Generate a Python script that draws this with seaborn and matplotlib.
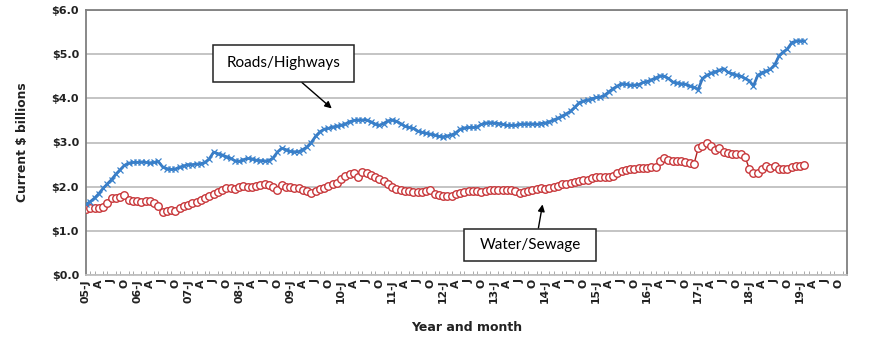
import numpy as np
import pandas as pd
import matplotlib
matplotlib.use("Agg")
import matplotlib.pyplot as plt
import seaborn as sns

# Monthly values, Jan 2005 .. Feb 2019 (current $ billions)
roads = [
    1.60, 1.66, 1.74, 1.84, 1.96, 2.06, 2.16, 2.28, 2.38, 2.48, 2.53, 2.55,
    2.55, 2.56, 2.55, 2.54, 2.55, 2.57, 2.45, 2.41, 2.39, 2.40, 2.44, 2.47,
    2.50, 2.50, 2.51, 2.52, 2.55, 2.63, 2.78, 2.75, 2.72, 2.68, 2.64, 2.59,
    2.57, 2.61, 2.64, 2.63, 2.60, 2.59, 2.58, 2.59, 2.65, 2.78, 2.87, 2.84,
    2.80, 2.79, 2.79, 2.84, 2.90, 3.00, 3.14, 3.24, 3.30, 3.32, 3.35, 3.37,
    3.39, 3.42, 3.47, 3.50, 3.51, 3.51, 3.51, 3.47, 3.42, 3.39, 3.43, 3.49,
    3.51, 3.48, 3.43, 3.37, 3.34, 3.32, 3.26, 3.23, 3.21, 3.19, 3.17, 3.14,
    3.13, 3.15, 3.17, 3.22, 3.30, 3.33, 3.34, 3.34, 3.35, 3.41, 3.44, 3.45,
    3.44, 3.43, 3.41, 3.39, 3.39, 3.39, 3.41, 3.42, 3.42, 3.42, 3.41, 3.43,
    3.44, 3.47, 3.51, 3.55, 3.60, 3.65, 3.71, 3.80, 3.90, 3.94, 3.96, 3.99,
    4.02, 4.03, 4.07, 4.15, 4.22, 4.28, 4.33, 4.32, 4.30, 4.30, 4.31, 4.36,
    4.38, 4.42, 4.46, 4.51, 4.50, 4.45, 4.37, 4.35, 4.33, 4.32, 4.28, 4.25,
    4.20, 4.45, 4.52, 4.57, 4.60, 4.64, 4.67, 4.59, 4.56, 4.53, 4.50, 4.45,
    4.40, 4.28, 4.52, 4.58, 4.62, 4.66, 4.76, 4.96, 5.05, 5.12, 5.26, 5.30,
    5.30, 5.30,
]
water = [
    1.50, 1.51, 1.52, 1.52, 1.53, 1.63, 1.75, 1.75, 1.77, 1.81, 1.70, 1.68,
    1.67, 1.66, 1.67, 1.68, 1.64, 1.57, 1.43, 1.46, 1.48, 1.45, 1.51, 1.56,
    1.59, 1.63, 1.66, 1.70, 1.74, 1.78, 1.84, 1.88, 1.92, 1.96, 1.98, 1.95,
    2.00, 2.01, 2.00, 2.00, 2.01, 2.03, 2.05, 2.04, 2.00, 1.93, 2.04, 2.00,
    1.99, 1.97, 1.96, 1.93, 1.90, 1.86, 1.90, 1.94, 1.98, 2.02, 2.06, 2.09,
    2.17, 2.24, 2.28, 2.30, 2.22, 2.34, 2.31, 2.27, 2.23, 2.18, 2.12, 2.06,
    1.99, 1.95, 1.92, 1.91, 1.90, 1.88, 1.88, 1.89, 1.91, 1.93, 1.84, 1.81,
    1.78, 1.79, 1.80, 1.83, 1.86, 1.88, 1.90, 1.91, 1.90, 1.88, 1.91, 1.92,
    1.92, 1.93, 1.93, 1.93, 1.92, 1.90, 1.86, 1.88, 1.90, 1.92, 1.94, 1.96,
    1.95, 1.97, 2.00, 2.02, 2.05, 2.06, 2.08, 2.10, 2.12, 2.15, 2.16, 2.19,
    2.21, 2.22, 2.23, 2.22, 2.25, 2.30, 2.36, 2.38, 2.40, 2.41, 2.42, 2.43,
    2.43, 2.44, 2.45, 2.57, 2.64, 2.60, 2.59, 2.58, 2.57, 2.56, 2.53, 2.51,
    2.87, 2.93, 2.99, 2.92, 2.84, 2.88, 2.79, 2.77, 2.75, 2.75, 2.75, 2.68,
    2.41, 2.32, 2.32, 2.39, 2.47, 2.43, 2.47, 2.41, 2.39, 2.41, 2.45, 2.47,
    2.47, 2.49,
]
first_year = 2005
last_year = 2019
month_letters = ["J", "A", "J", "O"]
y_ticks = [0, 1, 2, 3, 4, 5, 6]

sns.set_theme(style="white")
plt.rcParams["font.family"] = ["DejaVu Sans"]
BOXFONT = ["Lato", "DejaVu Sans"]

n_months = (last_year - first_year + 1) * 12
tick_pos = list(range(0, n_months, 3))
tick_lab = []
for p in tick_pos:
    yr = first_year + p // 12
    q = (p % 12) // 3
    tick_lab.append(f"{yr % 100:02d}-J" if q == 0 else month_letters[q])

df = pd.DataFrame({
    "idx": np.arange(len(roads)),
    "roads": roads,
    "water": water,
})

fig = plt.figure(figsize=(8.7, 3.4), dpi=100)
ax = fig.add_axes([86 / 870, 1 - 275 / 340, (847 - 86) / 870, (275 - 10) / 340])

sns.lineplot(data=df, x="idx", y="water", ax=ax, color="#b02020", lw=1.0,
             marker="o", markersize=5.4, markerfacecolor="white",
             markeredgecolor="#c8373a", markeredgewidth=1.0, zorder=3)
sns.lineplot(data=df, x="idx", y="roads", ax=ax, color="#3878c0", lw=2.0,
             marker="x", markersize=3.8, markeredgecolor="#3a82cc",
             markeredgewidth=0.9, zorder=4)

ax.set_xlim(0, n_months - 1)
ax.set_ylim(0, 6)
ax.set_yticks(y_ticks)
ax.set_yticklabels([f"${v:.1f}" for v in y_ticks], fontsize=8,
                   fontweight="bold", color="#222222")
ax.set_xticks(tick_pos)
ax.set_xticklabels(tick_lab, rotation=90, fontsize=7.8, fontweight="bold",
                   color="#222222")
ax.set_xticks(range(0, n_months), minor=True)
ax.tick_params(axis="x", which="major", length=0, pad=3)
ax.tick_params(axis="x", which="minor", direction="in", length=3,
               width=0.7, color="#aaaaaa", bottom=True)
ax.tick_params(axis="y", length=0, pad=5)

ax.yaxis.grid(True, color="#b4b4b4", lw=1.1)
ax.xaxis.grid(False)
ax.set_axisbelow(True)
for s in ax.spines.values():
    s.set_color("#7f7f7f")
    s.set_linewidth(1.3)
ax.spines["bottom"].set_color("#c0c0c0")

ax.set_xlabel("Year and month", fontsize=9, fontweight="bold",
              labelpad=13, color="#222222")
ax.set_ylabel("Current $ billions", fontsize=8.8, fontweight="bold",
              labelpad=16, color="#222222")

# Annotation arrows
ax.annotate("", xy=(58.3, 3.73), xytext=(50.3, 4.4),
            arrowprops=dict(arrowstyle="-|>", color="black", lw=1.0,
                            mutation_scale=10))
ax.annotate("", xy=(107.5, 1.66), xytext=(106.3, 1.0),
            arrowprops=dict(arrowstyle="-|>", color="black", lw=1.0,
                            mutation_scale=10))

def boxed(x0, y0, x1, y1, text):
    fx0, fx1 = x0 / 870, x1 / 870
    fy0, fy1 = 1 - y1 / 340, 1 - y0 / 340
    rect = plt.Rectangle((fx0, fy0), fx1 - fx0, fy1 - fy0, transform=fig.transFigure,
                         fc="white", ec="#222222", lw=1.1, zorder=10)
    fig.add_artist(rect)
    fig.text((fx0 + fx1) / 2, (fy0 + fy1) / 2, text, ha="center", va="center",
             fontsize=11, color="black", zorder=11, family=BOXFONT)

boxed(213, 45, 354, 82, "Roads/Highways")
boxed(464, 229, 596, 261, "Water/Sewage")

fig.savefig("out.png", dpi=100)
